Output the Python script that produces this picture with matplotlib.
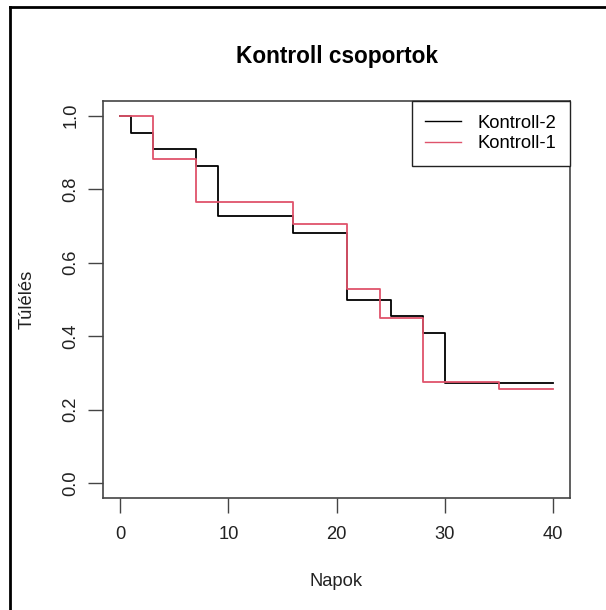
import matplotlib
matplotlib.use("Agg")
import matplotlib.pyplot as plt
from matplotlib.lines import Line2D

plt.rcParams['font.family'] = ['Liberation Sans', 'DejaVu Sans']

# Kaplan-Meier style survival steps
napok_k2 = [0, 1, 3, 7, 9, 16, 21, 25, 28, 30, 40]
tulel_k2 = [1.0, 0.954, 0.909, 0.864, 0.727, 0.682, 0.500, 0.455, 0.409, 0.273, 0.273]
napok_k1 = [0, 3, 7, 16, 21, 24, 28, 35, 40]
tulel_k1 = [1.0, 0.882, 0.765, 0.706, 0.529, 0.451, 0.276, 0.257, 0.257]

xticks = [0, 10, 20, 30, 40]
yticks = [0.0, 0.2, 0.4, 0.6, 0.8, 1.0]
red = "#DF536B"
fs = 13.2

fig = plt.figure(figsize=(6.06, 6.10), dpi=100)
ax = fig.add_axes([103 / 606, 1 - 498 / 610, 467 / 606, 397 / 610])

ax.step(napok_k2, tulel_k2, where='post', color='black', lw=1.3, label='Kontroll-2')
ax.step(napok_k1, tulel_k1, where='post', color=red, lw=1.3, label='Kontroll-1')

ax.set_xlim(-1.6, 41.6)
ax.set_ylim(-0.04, 1.04)
ax.set_xticks(xticks)
ax.set_yticks(yticks)
ax.set_xticklabels([str(v) for v in xticks])
ax.set_yticklabels([f"{v:.1f}" for v in yticks], rotation=90, va='center')
ax.tick_params(direction='out', length=11, width=1, color='#444444',
               labelsize=fs, labelcolor='#222222')
ax.tick_params(axis='x', pad=9)
ax.tick_params(axis='y', pad=6)
for sp in ax.spines.values():
    sp.set_color('#444444')
    sp.set_linewidth(1.2)

ax.set_xlabel('Napok', fontsize=fs, labelpad=22, color='#222222')
ax.set_ylabel('Túlélés', fontsize=fs, labelpad=19, color='#222222')
ax.set_title('Kontroll csoportok', fontsize=16.3, fontweight='bold', pad=27)

leg = ax.legend(loc='upper right', borderaxespad=0, fancybox=False,
                edgecolor='#222222', framealpha=1, fontsize=fs,
                handlelength=1.95, handletextpad=0.9, labelspacing=0.2,
                borderpad=0.75)
leg.get_frame().set_linewidth(1.0)
for h in leg.get_lines():
    h.set_linewidth(1.0)

# screenshot border on left and top
fig.add_artist(Line2D([9.5 / 606, 9.5 / 606], [0, 1 - 7 / 610], color='black', lw=2,
                      transform=fig.transFigure))
fig.add_artist(Line2D([9.5 / 606, 1], [1 - 7 / 610, 1 - 7 / 610], color='black', lw=2,
                      transform=fig.transFigure))

fig.savefig('out.png', dpi=100)
